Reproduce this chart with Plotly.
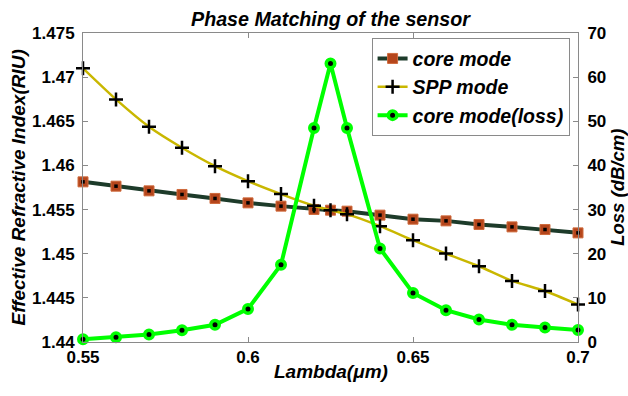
import plotly.graph_objects as go

wavelength = [0.55, 0.56, 0.57, 0.58, 0.59, 0.60, 0.61, 0.62, 0.625, 0.63,
              0.64, 0.65, 0.66, 0.67, 0.68, 0.69, 0.70]
core_mode = [1.45814, 1.45765, 1.45712, 1.45671, 1.45626, 1.45576, 1.45539, 1.45501, 1.45493, 1.45482,
             1.45437, 1.45391, 1.45372, 1.45331, 1.45304, 1.45274, 1.45236]
spp_mode = [1.4710, 1.46748, 1.46438, 1.4620, 1.45992, 1.45822, 1.45675, 1.45543, 1.45493, 1.45448,
            1.45312, 1.45153, 1.45002, 1.44858, 1.44692, 1.44578, 1.44424]
core_loss = [0.6, 1.1, 1.7, 2.65, 3.9, 7.5, 17.5, 48.5, 63.1, 48.5,
             21.2, 11.1, 7.2, 5.1, 3.9, 3.3, 2.7]

left_ticks = [1.44, 1.445, 1.45, 1.455, 1.46, 1.465, 1.47, 1.475]
left_labels = ["1.44", "1.445", "1.45", "1.455", "1.46", "1.465", "1.47", "1.475"]
right_ticks = [0, 10, 20, 30, 40, 50, 60, 70]
x_ticks = [0.55, 0.6, 0.65, 0.7]
x_labels = ["0.55", "0.6", "0.65", "0.7"]

FONT = "Liberation Sans, Arial, sans-serif"
AXIS_GRAY = "#8a8a8a"

fig = go.Figure()

fig.add_trace(go.Scatter(
    x=wavelength, y=core_mode, name="core mode", mode="lines+markers",
    line=dict(color="#1d3b2a", width=4),
    marker=dict(symbol="square", size=10, color="#b5461c", line=dict(color="#cf6a3c", width=1)),
    cliponaxis=False, legendgroup="core"))
fig.add_trace(go.Scatter(
    x=wavelength, y=core_mode, name="core mode", mode="markers", showlegend=False,
    marker=dict(symbol="square", size=3.5, color="black"),
    cliponaxis=False, legendgroup="core", hoverinfo="skip"))

fig.add_trace(go.Scatter(
    x=wavelength, y=spp_mode, name="SPP mode", mode="lines+markers",
    line=dict(color="#c9b700", width=2.5, shape="spline", smoothing=0.6),
    marker=dict(symbol="cross-thin", size=10, color="black", line=dict(color="black", width=2.5)),
    cliponaxis=False))

fig.add_trace(go.Scatter(
    x=wavelength, y=core_loss, name="core mode(loss)", mode="lines+markers", yaxis="y2",
    line=dict(color="#00ff00", width=4),
    marker=dict(symbol="circle", size=8.5, color="black", line=dict(color="#00ff00", width=3.5)),
    cliponaxis=False))

tickfont = dict(family=FONT, size=17, color="black", weight="bold")
titlefont = dict(family=FONT, size=19, color="black", weight="bold", style="italic")

fig.update_layout(
    width=628, height=396,
    margin=dict(l=83, r=50, t=33, b=54.3, pad=0),
    paper_bgcolor="white", plot_bgcolor="white",
    showlegend=True,
    legend=dict(
        x=0.583, y=0.983, xanchor="left", yanchor="top",
        bgcolor="white", bordercolor=AXIS_GRAY, borderwidth=1,
        font=dict(family=FONT, size=19.5, color="black", weight="bold", style="italic"),
        itemwidth=30, tracegroupgap=0,
    ),
    xaxis=dict(
        range=[0.55, 0.70], tickvals=x_ticks, ticktext=x_labels,
        showline=True, linecolor=AXIS_GRAY, linewidth=1, mirror="ticks",
        ticks="inside", ticklen=5, tickcolor=AXIS_GRAY,
        showgrid=False, zeroline=False, tickfont=tickfont,
    ),
    yaxis=dict(
        range=[1.44, 1.475], tickvals=left_ticks, ticktext=left_labels,
        showline=True, linecolor=AXIS_GRAY, linewidth=1,
        ticks="inside", ticklen=5, tickcolor=AXIS_GRAY,
        showgrid=False, zeroline=False, tickfont=tickfont, ticklabelstandoff=4,
    ),
    yaxis2=dict(
        range=[0, 70], tickvals=right_ticks, overlaying="y", side="right",
        showline=True, linecolor=AXIS_GRAY, linewidth=1,
        ticks="inside", ticklen=5, tickcolor=AXIS_GRAY,
        showgrid=False, zeroline=False, tickfont=tickfont, ticklabelstandoff=5,
    ),
    annotations=[
        dict(text="Phase Matching of the sensor", xref="paper", yref="paper",
             x=0.5, y=1.0437, xanchor="center", yanchor="middle", showarrow=False,
             font=dict(family=FONT, size=19.7, color="black", weight="bold", style="italic")),
        dict(text="Lambda(μm)", xref="paper", yref="paper",
             x=0.5, y=-0.097, xanchor="center", yanchor="middle", showarrow=False,
             font=titlefont),
        dict(text="Effective Refractive Index(RIU)", xref="paper", yref="paper",
             x=-0.1313, y=0.5, xanchor="center", yanchor="middle", showarrow=False, textangle=-90,
             font=titlefont),
        dict(text="Loss (dB/cm)", xref="paper", yref="paper",
             x=1.0795, y=0.5, xanchor="center", yanchor="middle", showarrow=False, textangle=-90,
             font=dict(family=FONT, size=18.5, color="black", weight="bold", style="italic")),
    ],
)

fig.write_html("out.html", config={"displayModeBar": False},
               post_script="document.body.style.margin='0';document.body.style.overflow='hidden';")
